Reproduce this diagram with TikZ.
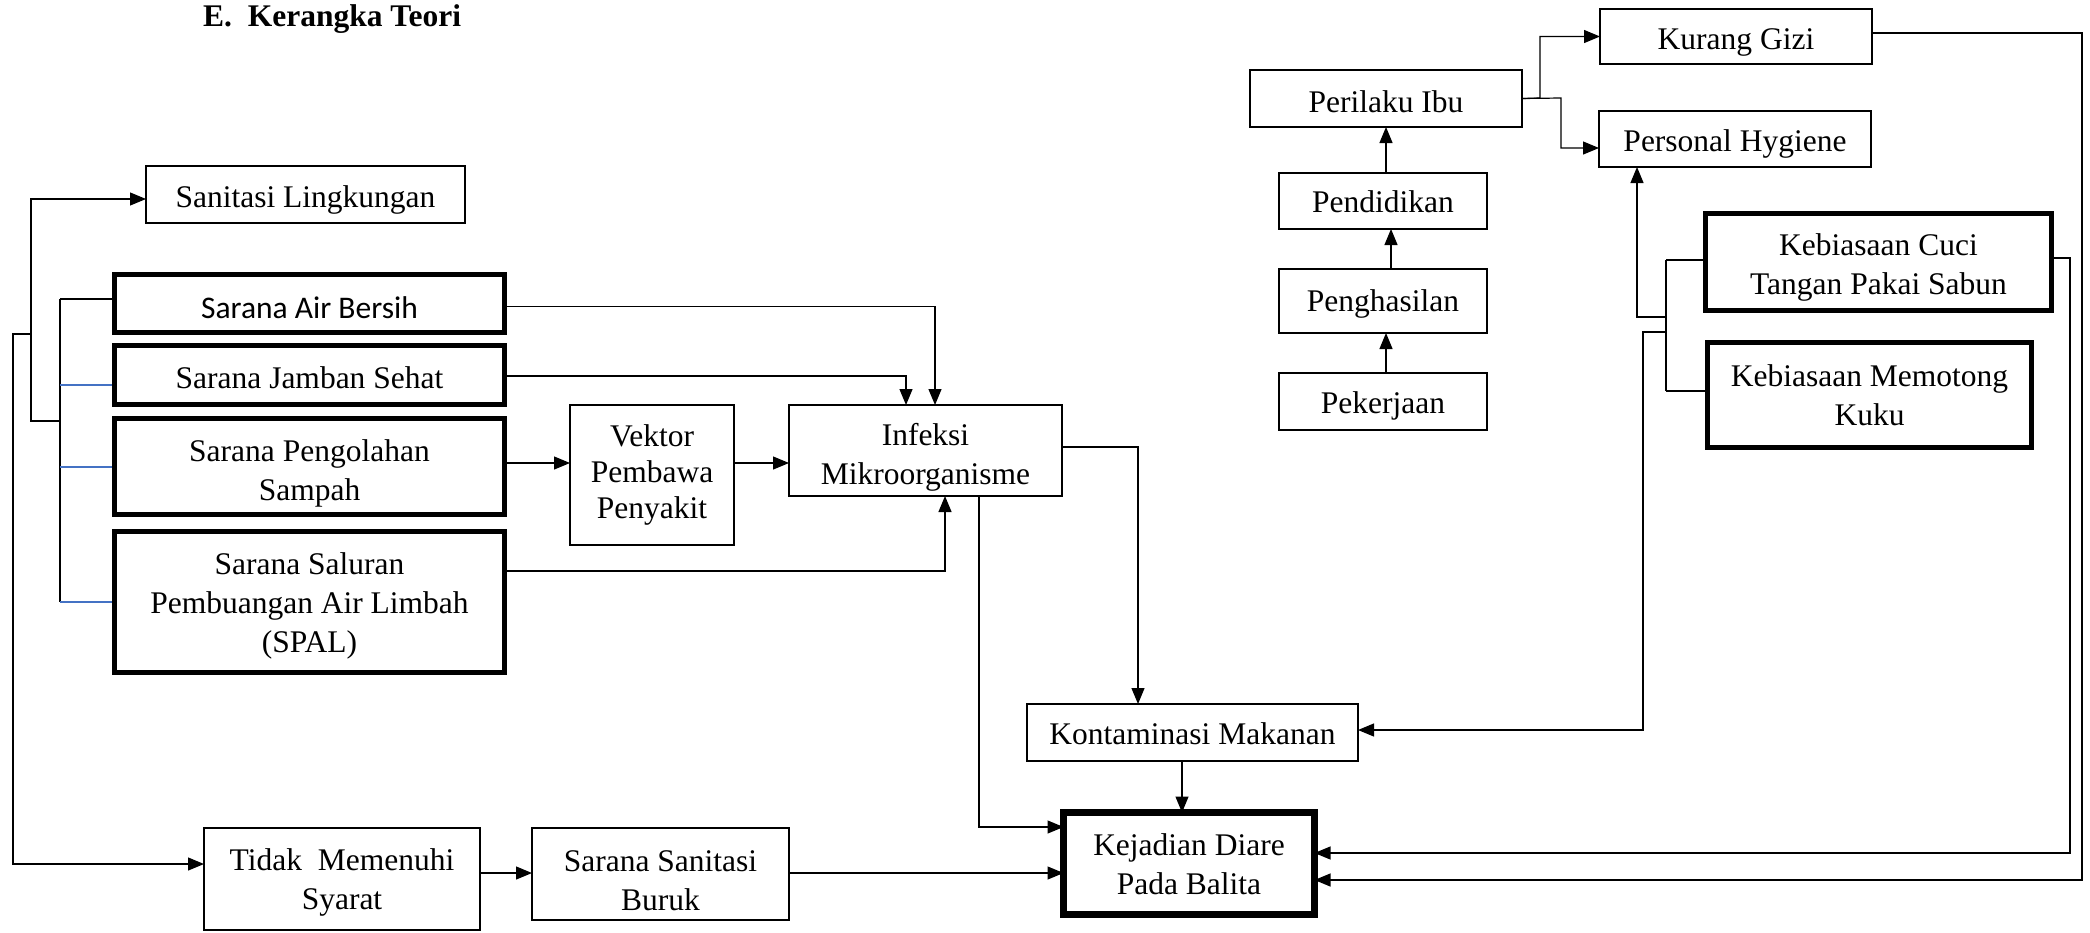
\documentclass[tikz,border=0pt]{standalone}
\usepackage{fontspec}
\setmainfont{Liberation Serif}
\newfontfamily\calfont{Carlito}
\usetikzlibrary{arrows.meta}
\definecolor{lineblue}{RGB}{68,114,196}
\newcommand\bfsz{\fontsize{31.5}{39}\selectfont}
\newcommand\dn[1]{\rule{0pt}{\numexpr 22+2*#1\relax pt}}
\begin{document}
\begin{tikzpicture}[x=1pt,y=-1pt,
  box/.style={draw, line width=2.2pt, inner sep=0pt, outer sep=0pt, align=center, font=\bfsz},
  thickbox/.style={box, line width=4.6pt},
  heavybox/.style={box, line width=7.5pt},
  titletext/.style={inner sep=0pt, anchor=west, font=\bfseries\bfsz},
  conn/.style={line width=1.2pt},
  arr/.style={conn, -{Triangle[length=16pt,width=13pt]}},
  blueconn/.style={line width=1.2pt, draw=lineblue}]
\useasboundingbox (0,0) rectangle (2090,932);

\node[titletext] (title) at (203,19) {E.~~Kerangka Teori};

% left column
\node[box, minimum width=319pt, minimum height=57pt] (sanl) at (305.5,194.5) {\dn{5}Sanitasi Lingkungan};
\node[thickbox, minimum width=390pt, minimum height=58pt, font=\calfont\bfsz] (air) at (309.5,303.5) {\dn{4}Sarana Air Bersih};
\node[thickbox, minimum width=390pt, minimum height=59pt] (jamban) at (309.5,375) {\dn{3}Sarana Jamban Sehat};
\node[thickbox, minimum width=390pt, minimum height=96pt] (olah) at (309.5,466.5) {\dn{7}Sarana Pengolahan\\Sampah};
\node[thickbox, minimum width=390pt, minimum height=141pt] (spal) at (309.5,602) {\dn{4}Sarana Saluran\\Pembuangan Air Limbah\\(SPAL)};

\node[box, minimum width=164pt, minimum height=140pt, font=\fontsize{31.5}{36}\selectfont] (vektor) at (652,475) {Vektor\\Pembawa\\Penyakit};
\node[box, minimum width=273pt, minimum height=91pt] (infeksi) at (925.5,450.5) {\dn{7}Infeksi\\Mikroorganisme};

% right column
\node[box, minimum width=272pt, minimum height=57pt] (peril) at (1386,98.5) {\dn{3}Perilaku Ibu};
\node[box, minimum width=208pt, minimum height=56pt] (pend) at (1383,201) {\dn{1}Pendidikan};
\node[box, minimum width=208pt, minimum height=64pt] (peng) at (1383,301) {\dn{3}Penghasilan};
\node[box, minimum width=208pt, minimum height=57pt] (peker) at (1383,401.5) {\dn{4}Pekerjaan};
\node[box, minimum width=272pt, minimum height=55pt] (gizi) at (1736,36.5) {\dn{5}Kurang Gizi};
\node[box, minimum width=272pt, minimum height=56pt] (hyg) at (1735,139) {\dn{5}Personal Hygiene};
\node[thickbox, minimum width=346pt, minimum height=97pt] (cuci) at (1878.5,262) {\dn{5}Kebiasaan Cuci\\Tangan Pakai Sabun};
\node[thickbox, minimum width=324pt, minimum height=105pt] (kuku) at (1869.5,395) {Kebiasaan Memotong\\Kuku};

% bottom
\node[box, minimum width=331pt, minimum height=57pt] (konta) at (1192.5,732.5) {\dn{1}Kontaminasi Makanan};
\node[heavybox, minimum width=251pt, minimum height=102pt] (diare) at (1189,863.5) {\dn{1}Kejadian Diare\\Pada Balita};
\node[box, minimum width=276pt, minimum height=102pt] (tidak) at (342,879) {\dn{3}Tidak~ Memenuhi\\Syarat};
\node[box, minimum width=257pt, minimum height=92pt] (buruk) at (660.5,874) {\dn{6}Sarana Sanitasi\\Buruk};

% left bracket
\coordinate (brk) at (60,421);
\coordinate (jn) at (31,334);
\draw[conn] (60,299) -- (60,602);
\draw[conn] (60,299) -- ([yshift=4.5pt]air.west);
\draw[blueconn] (60,385) -- ([xshift=-3pt,yshift=-10pt]jamban.west);
\draw[blueconn] (60,467) -- ([xshift=-3pt,yshift=-0.5pt]olah.west);
\draw[blueconn] (60,602) -- ([xshift=-3pt]spal.west);
\draw[arr] (brk) -- (31,421) |- ([yshift=-4.5pt]sanl.west);
\draw[arr] (jn) -- (13,334) |- ([yshift=15pt]tidak.west);

% sarana -> infeksi
\draw[arr] ([yshift=-3pt]air.east) -| ([xshift=9.5pt]infeksi.north);
\draw[arr] ([yshift=-1pt]jamban.east) -| ([xshift=-19.5pt]infeksi.north);
\draw[arr] ([yshift=3.5pt]olah.east) -- ([yshift=3.5pt]olah.east -| vektor.west);
\draw[arr] ([yshift=3.5pt]vektor.east |- olah.east) -- ([yshift=3.5pt]infeksi.west |- olah.east);
\draw[arr] ([yshift=31pt]spal.east) -| ([xshift=19.5pt]infeksi.south);
\draw[arr] ([xshift=53.5pt]infeksi.south) |- ([yshift=36.5pt]diare.west);
\draw[arr] ([yshift=3.5pt]infeksi.east) -| ([xshift=-54.5pt]konta.north);
\draw[arr] ([xshift=-10.5pt]konta.south) -- ([xshift=-7pt]diare.north);

% bottom chain
\draw[arr] ([yshift=6pt]tidak.east) -- ([yshift=1pt]buruk.west);
\draw[arr] ([yshift=1pt]buruk.east) -- ([yshift=-9.5pt]diare.west);

% right side
\draw[arr] ([xshift=3pt]pend.north) -- (peril.south);
\draw[arr] ([xshift=8pt]peng.north) -- ([xshift=8pt]pend.south);
\draw[arr] ([xshift=3pt]peker.north) -- ([xshift=3pt]peng.south);
\draw[arr] (peril.east) -- (1540,98) |- (gizi.west);
\draw[arr] (peril.east) -- (1561,98) |- ([yshift=-9pt]hyg.west);

\draw[conn] (1666,260) -- (1666,391);
\draw[conn] (1666,260) -- ([yshift=2pt]cuci.west);
\draw[conn] (1666,391) -- ([yshift=4pt]kuku.west);
\draw[arr] (1666,317) -| ([xshift=-98pt]hyg.south);
\draw[arr] (1666,332) -- (1643,332) |- ([yshift=2.5pt]konta.east);
\draw[arr] ([yshift=4pt]cuci.east) -- (2070,258) |- ([yshift=10.5pt]diare.east);
\draw[arr] ([yshift=3.5pt]gizi.east) -- (2082,33) |- ([yshift=-16.5pt]diare.east);
\end{tikzpicture}
\end{document}
